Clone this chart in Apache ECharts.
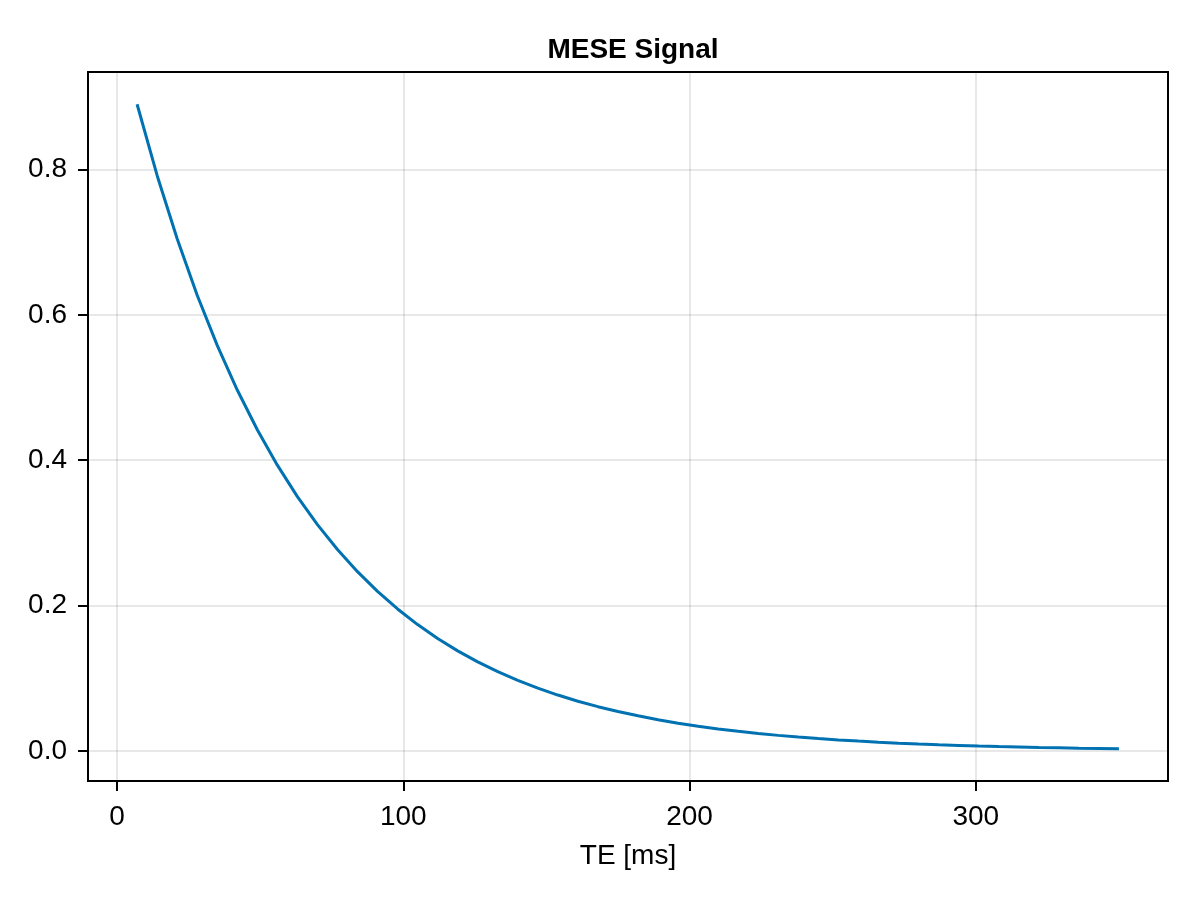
<!DOCTYPE html>
<html>
<head>
<meta charset="utf-8">
<script src="https://cdn.jsdelivr.net/npm/echarts@6/dist/echarts.min.js"></script>
<style>html,body{margin:0;padding:0;background:#fff}#c{width:1200px;height:900px}</style>
</head>
<body>
<div id="c"></div>
<script>
const titleText = 'MESE Signal';
const xLabel = 'TE [ms]';
const te = [7,14,21,28,35,42,49,56,63,70,77,84,91,98,105,112,119,126,133,140,147,154,161,168,175,182,189,196,203,210,217,224,231,238,245,252,259,266,273,280,287,294,301,308,315,322,329,336,343,350];
const signal = [0.8899,0.7919,0.7047,0.6271,0.5580,0.4966,0.4419,0.3932,0.3499,0.3114,0.2771,0.2466,0.2194,0.1953,0.1738,0.1546,0.1376,0.1225,0.1090,0.0970,0.0863,0.0768,0.0683,0.0608,0.0541,0.0482,0.0429,0.0381,0.0339,0.0302,0.0269,0.0239,0.0213,0.0189,0.0169,0.0150,0.0134,0.0119,0.0106,0.0094,0.0084,0.0075,0.0066,0.0059,0.0053,0.0047,0.0042,0.0037,0.0033,0.0029];
const xTicks = [0,100,200,300];
const yTicks = [0.0,0.2,0.4,0.6,0.8];

const points = te.map((t,i)=>[t, signal[i]]);
const font = 'Liberation Sans';
const chart = echarts.init(document.getElementById('c'));
chart.setOption({
  animation: false,
  backgroundColor: '#fff',
  title: {
    text: titleText, left: 628, top: 31, textAlign: 'center',
    textStyle: {fontFamily: font, fontSize: 28, fontWeight: 'bold', color: '#000'}
  },
  grid: {left: 88, right: 32, top: 72, bottom: 119, show: true, borderColor: '#000', borderWidth: 2, containLabel: false},
  xAxis: {
    type: 'value', min: -10.15, max: 367.15,
    name: xLabel, nameLocation: 'middle', nameGap: 61,
    nameTextStyle: {fontFamily: font, fontSize: 28, color: '#000'},
    axisLine: {show: false, onZero: false},
    axisTick: {show: true, length: 10, lineStyle: {color: '#000', width: 2}, customValues: xTicks},
    axisLabel: {fontFamily: font, fontSize: 28, color: '#000', margin: 22, customValues: xTicks},
    splitLine: {show: true, lineStyle: {color: 'rgba(0,0,0,0.12)', width: 1.5}}
  },
  yAxis: {
    type: 'value', min: -0.0415, max: 0.9343,
    axisLine: {show: false, onZero: false},
    axisTick: {show: true, length: 10, lineStyle: {color: '#000', width: 2}, customValues: yTicks},
    axisLabel: {fontFamily: font, fontSize: 28, color: '#000', margin: 21, padding: [6,0,0,0], customValues: yTicks, formatter: v => v.toFixed(1)},
    splitLine: {show: true, lineStyle: {color: 'rgba(0,0,0,0.12)', width: 1.5}}
  },
  series: [{
    type: 'line', data: points, showSymbol: false, symbol: 'none',
    lineStyle: {color: '#0072B2', width: 3}, itemStyle: {color: '#0072B2'}
  }]
});
</script>
</body>
</html>
